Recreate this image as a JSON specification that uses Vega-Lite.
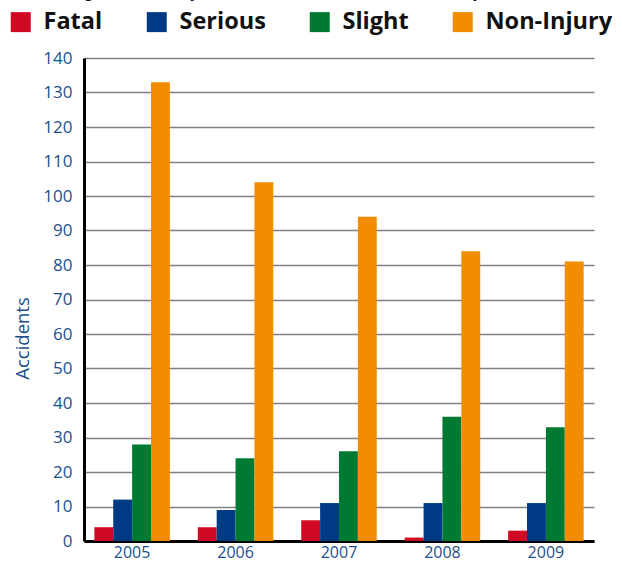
{
  "$schema": "https://vega.github.io/schema/vega-lite/v6.json",
  "autosize": "none",
  "width": 510,
  "height": 483,
  "padding": {"left": 84, "top": 58, "right": 28, "bottom": 22},
  "background": "white",
  "title": {
    "text": "Combined figures for East Ayrshire Council and Dumfries and Galloway Council",
    "anchor": "start",
    "frame": "group",
    "orient": "top",
    "font": "Open Sans",
    "fontSize": 13.5,
    "fontWeight": "bold",
    "color": "#111111",
    "baseline": "alphabetic",
    "offset": 0,
    "dx": -80,
    "dy": 1
  },
  "data": {
    "values": [
      {"year": "2005", "type": "Fatal", "value": 4},
      {"year": "2005", "type": "Serious", "value": 12},
      {"year": "2005", "type": "Slight", "value": 28},
      {"year": "2005", "type": "Non-Injury", "value": 133},
      {"year": "2006", "type": "Fatal", "value": 4},
      {"year": "2006", "type": "Serious", "value": 9},
      {"year": "2006", "type": "Slight", "value": 24},
      {"year": "2006", "type": "Non-Injury", "value": 104},
      {"year": "2007", "type": "Fatal", "value": 6},
      {"year": "2007", "type": "Serious", "value": 11},
      {"year": "2007", "type": "Slight", "value": 26},
      {"year": "2007", "type": "Non-Injury", "value": 94},
      {"year": "2008", "type": "Fatal", "value": 1},
      {"year": "2008", "type": "Serious", "value": 11},
      {"year": "2008", "type": "Slight", "value": 36},
      {"year": "2008", "type": "Non-Injury", "value": 84},
      {"year": "2009", "type": "Fatal", "value": 3},
      {"year": "2009", "type": "Serious", "value": 11},
      {"year": "2009", "type": "Slight", "value": 33},
      {"year": "2009", "type": "Non-Injury", "value": 81}
    ]
  },
  "mark": {"type": "bar"},
  "encoding": {
    "x": {
      "field": "year",
      "type": "nominal",
      "scale": {"paddingInner": 0.27, "paddingOuter": 0.1},
      "axis": {
        "title": null,
        "labelAngle": 0,
        "labelFont": "Open Sans",
        "labelFontSize": 16,
        "labelColor": "#1d4f8c",
        "labelPadding": 3,
        "ticks": false,
        "domainColor": "#000000",
        "domainWidth": 3,
        "grid": false
      }
    },
    "xOffset": {
      "field": "type",
      "type": "nominal",
      "sort": ["Fatal", "Serious", "Slight", "Non-Injury"],
      "scale": {"paddingInner": 0, "paddingOuter": 0}
    },
    "y": {
      "field": "value",
      "type": "quantitative",
      "scale": {"domain": [0, 140], "nice": false},
      "axis": {
        "title": "Accidents",
        "titleFont": "Open Sans",
        "titleFontSize": 18.5,
        "titleFontWeight": "normal",
        "titleColor": "#1d4f8c",
        "titlePadding": 10,
        "titleY": 280,
        "values": [0, 10, 20, 30, 40, 50, 60, 70, 80, 90, 100, 110, 120, 130, 140],
        "labelFont": "Open Sans",
        "labelFontSize": 17,
        "labelColor": "#1d4f8c",
        "labelPadding": 12,
        "ticks": false,
        "domainColor": "#000000",
        "domainWidth": 3,
        "grid": true,
        "gridColor": "#808080",
        "gridWidth": 1.5
      }
    },
    "color": {
      "field": "type",
      "type": "nominal",
      "sort": ["Fatal", "Serious", "Slight", "Non-Injury"],
      "scale": {
        "domain": ["Fatal", "Serious", "Slight", "Non-Injury"],
        "range": ["#d00a22", "#003a85", "#007a33", "#f28c00"]
      },
      "legend": {
        "title": null,
        "orient": "none",
        "direction": "horizontal",
        "columns": 4,
        "legendX": -75,
        "legendY": -48,
        "symbolType": "square",
        "symbolSize": 400,
        "symbolStrokeWidth": 0,
        "labelFont": "Open Sans",
        "labelFontSize": 23.5,
        "labelFontWeight": "bold",
        "labelColor": "#111111",
        "labelOffset": 11,
        "columnPadding": 42,
        "labelLimit": 250
      }
    }
  },
  "config": {
    "view": {"stroke": null},
    "axis": {"gridDash": []}
  }
}
